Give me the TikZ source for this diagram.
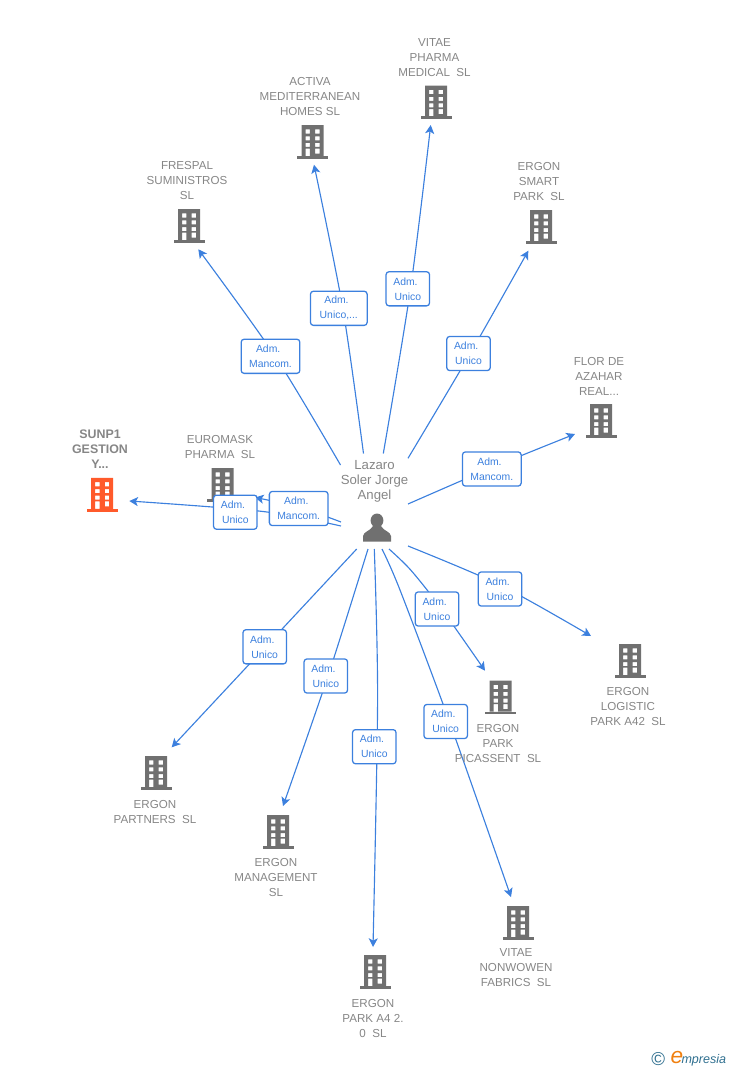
\documentclass[tikz,border=0pt]{standalone}
\usepackage{fontspec}
\setmainfont{Liberation Sans}
\usetikzlibrary{arrows.meta,backgrounds}
\definecolor{linkblue}{HTML}{3C80DE}
\definecolor{labelgrey}{HTML}{868686}
\definecolor{iconGrey}{HTML}{707070}
\definecolor{hotorange}{HTML}{FF5A2B}
\definecolor{logoteal}{HTML}{2F6F8F}
\definecolor{logoorange}{HTML}{F08010}
\newcommand{\admline}{Adm.\kern3.5pt}
\tikzset{
  every node/.style={inner sep=0pt,outer sep=0pt},
  conn/.style={draw=linkblue,line width=0.85pt,-{Stealth[length=6.5pt,width=6.8pt,inset=1.6pt]}},
  rolebox/.style={draw=linkblue,fill=white,rounded corners=2.2pt,line width=0.95pt,text=linkblue,font=\fontsize{7.8}{11.25}\selectfont,align=center,minimum height=25.6pt},
  unicobox/.style={rolebox,minimum width=32.6pt},
  mancombox/.style={rolebox,minimum width=44pt},
  firmname/.style={text=labelgrey,font=\fontsize{8.7}{11.25}\selectfont,align=center},
  hotname/.style={text=labelgrey,font=\fontsize{9.3}{11.25}\selectfont\bfseries,align=center},
  personname/.style={text=labelgrey,font=\fontsize{9.9}{11.25}\selectfont,align=center},
  anchorpt/.style={minimum size=26pt},
  pics/firm/.style={code={
    \fill[#1] (-15.5,16.8) rectangle (15.5,14);
    \fill[#1,even odd rule] (-11,-16.8) rectangle (11,14.2)
      (-7,-12.7) rectangle (-2.6,-8.4) (2.6,-12.7) rectangle (7,-8.4)
      (-7,-5.7) rectangle (-2.6,-1.7) (2.6,-5.7) rectangle (7,-1.7)
      (-7,1) rectangle (-2.6,5) (2.6,1) rectangle (7,5)
      (-7,6.6) rectangle (-2.6,14.2) (2.6,6.6) rectangle (7,11.6);
  }}
}
\begin{document}
\begin{tikzpicture}[x=0.75pt,y=-0.75pt]
\useasboundingbox (0,0) rectangle (728,1070);
% firm icons
\foreach \nm/\cx/\cy in {frespal/189/226,activa/312.5/142,vitae/436/102.5,smart/541/227,flor/601/421,euromask/222.5/485,logistic/630/661,picassent/500.7/697.5,partners/156/773,management/278/832,parkafour/375/972,nonwowen/518/923}{
  \node[anchorpt] (\nm) at (\cx,\cy) {};
  \pic at (\cx,\cy) {firm=iconGrey};
}
\node[anchorpt] (sunp) at (102.2,494.7) {};
\pic at (102.2,494.7) {firm=hotorange};
% names
\node[firmname] at (434.5,58) {VITAE\\PHARMA\\MEDICAL\ \ SL};
\node[firmname] at (310,97) {ACTIVA\\MEDITERRANEAN\\HOMES SL};
\node[firmname] at (187,181) {FRESPAL\\SUMINISTROS\\SL};
\node[firmname] at (539,182) {ERGON\\SMART\\PARK\ \ SL};
\node[firmname] at (599,376) {FLOR DE\\AZAHAR\\REAL...};
\node[hotname] at (100,449.5) {SUNP1\\GESTION\\Y...};
\node[firmname] at (220,447.5) {EUROMASK\\PHARMA\ \ SL};
\node[personname] at (374.5,481.5) {Lazaro\\Soler Jorge\\Angel};
\node[firmname] at (628,706) {ERGON\\LOGISTIC\\PARK A42\ \ SL};
\node[firmname] at (498,743) {ERGON\\PARK\\PICASSENT\ \ SL};
\node[firmname] at (155,811.5) {ERGON\\PARTNERS\ \ SL};
\node[firmname] at (276,877) {ERGON\\MANAGEMENT\\SL};
\node[firmname] at (373,1018) {ERGON\\PARK A4 2.\\0\ \ SL};
\node[firmname] at (516,968) {VITAE\\NONWOWEN\\FABRICS\ \ SL};
% person
\node[anchorpt] (person) at (377,528) {};
\fill[iconGrey] (377,520.5) ellipse (6.4 and 7);
\fill[iconGrey] (363,541.5) -- (363,536) .. controls (363.5,531.5) and (370.5,531) .. (373,526) -- (381,526) .. controls (383.5,531) and (390.5,531.5) .. (391,536) -- (391,541.5) -- cycle;
% role boxes
\node[mancombox] (lfrespal) at (270.5,356.3) {\admline\\Mancom.};
\node[rolebox,minimum width=42.5pt] (lactiva) at (338.8,308.3) {\admline\\Unico,...};
\node[unicobox] (lvitae) at (407.8,288.8) {\admline\\Unico};
\node[unicobox] (lsmart) at (468.5,353.5) {\admline\\Unico};
\node[mancombox] (lflor) at (491.8,469) {\admline\\Mancom.};
\node[unicobox] (llogistic) at (500,589) {\admline\\Unico};
\node[unicobox] (lpicassent) at (437,609) {\admline\\Unico};
\node[unicobox] (lnonwowen) at (445.7,721.5) {\admline\\Unico};
\node[unicobox] (lparkafour) at (374.3,746.7) {\admline\\Unico};
\node[unicobox] (lmanagement) at (325.8,676) {\admline\\Unico};
\node[unicobox] (lpartners) at (264.7,646.8) {\admline\\Unico};
\node[mancombox] (leuromask) at (298.7,508.5) {\admline\\Mancom.};
\node[unicobox] (lsunp) at (235.3,512.2) {\admline\\Unico};
% connector ends and bends
\foreach \nm/\x/\y in {
  sfrespal/340.5/465,mfrespal/275.2/356.3,tfrespal/198.3/249.3,
  sactiva/363.5/453.5,mactiva/342.8/308.3,tactiva/314/164.7,
  svitae/383.3/453.5,mvitae/410.5/288.8,tvitae/430.7/125,
  ssmart/408/458.3,msmart/470.2/353.5,tsmart/528.3/250.7,
  sflor/408/504,mflor/492/467.6,tflor/575/434,
  slogistic/408/546,mlogistic/500.5/585.3,tlogistic/591/636,
  spicassent/389/549,vpicassent/410.7/570,mpicassent/441.5/608.8,tpicassent/485/670.7,
  snonwowen/382/549,vnonwowen/400/590,mnonwowen/449.4/721.5,tnonwowen/511/897,
  sparkafour/374.3/549,mparkafour/377.6/700,tparkafour/373/947,
  smanagement/368/549,mmanagement/328/676,tmanagement/283/806,
  spartners/356.7/549,mpartners/265.5/646.8,tpartners/171.7/747.3,
  seuromask/341/522,meuromask/298.5/507,teuromask/255/497.5,
  ssunp/341/526,msunp/263/511.5,tsunp/129.3/501}{
  \coordinate (\nm) at (\x,\y);
}
\begin{pgfonlayer}{background}
\foreach \nm in {frespal,activa,vitae,smart,flor,logistic,parkafour,management,partners,euromask,sunp}{
  \draw[conn] plot[smooth,tension=0.5] coordinates {(s\nm) (m\nm) (t\nm)};
}
\foreach \nm in {picassent,nonwowen}{
  \draw[conn] plot[smooth,tension=0.5] coordinates {(s\nm) (v\nm) (m\nm) (t\nm)};
}
\end{pgfonlayer}
% logo
\node[text=logoteal,font=\fontsize{14}{14}\selectfont] (copyr) at (658.3,1058.7) {©};
\node[text=logoorange,font=\fontsize{17}{17}\selectfont\itshape] (logoe) at (677,1057.5) {e};
\node[text=logoteal,font=\fontsize{9.4}{10}\selectfont\itshape,anchor=west] (logotext) at (681.5,1060) {mpresia};
\end{tikzpicture}
\end{document}
